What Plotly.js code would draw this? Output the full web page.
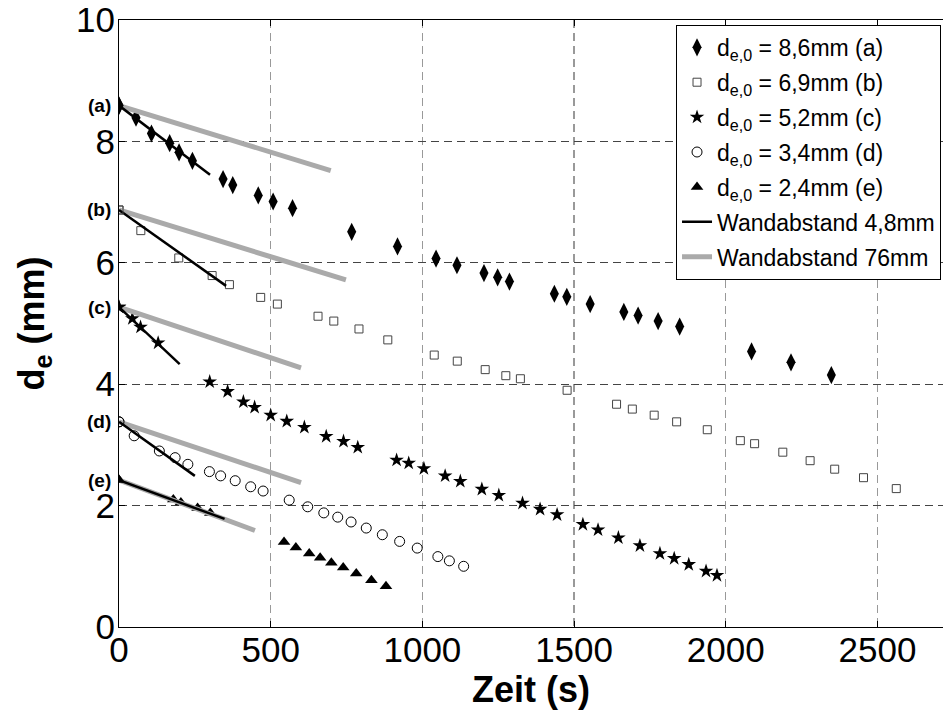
<!DOCTYPE html>
<html>
<head>
<meta charset="utf-8">
<script src="https://cdn.plot.ly/plotly-3.0.1.min.js"></script>
<style>
html,body{margin:0;padding:0;background:#fff;}
#chart{width:943px;height:710px;}
</style>
</head>
<body>
<div id="chart"></div>
<script>
// Series (a) d_e,0 = 8,6 mm
const tA = [0,56,107,167,198,242,343,375,459,508,572,767,918,1045,1114,1203,1248,1287,1435,1476,1553,1664,1711,1777,1848,2085,2215,2348];
const dA = [8.59,8.39,8.13,7.97,7.82,7.68,7.38,7.28,7.11,7.01,6.90,6.51,6.27,6.07,5.96,5.83,5.76,5.69,5.49,5.44,5.32,5.19,5.13,5.04,4.95,4.54,4.36,4.15];
// Series (b) d_e,0 = 6,9 mm
const tB = [0,72,197,307,364,467,522,656,708,791,886,1039,1115,1207,1275,1323,1477,1640,1692,1764,1838,1939,2048,2095,2188,2278,2359,2454,2562];
const dB = [6.87,6.53,6.08,5.79,5.64,5.43,5.32,5.12,5.04,4.91,4.73,4.48,4.38,4.24,4.14,4.09,3.90,3.67,3.59,3.49,3.38,3.25,3.07,3.02,2.88,2.74,2.60,2.46,2.28];
// Series (c) d_e,0 = 5,2 mm
const tC = [0,44,71,129,299,358,410,447,500,553,611,683,740,787,915,955,1005,1075,1125,1196,1252,1330,1388,1444,1529,1579,1646,1717,1783,1830,1878,1935,1971];
const dC = [5.27,5.08,4.94,4.68,4.04,3.88,3.71,3.62,3.49,3.39,3.29,3.14,3.06,2.96,2.75,2.70,2.61,2.49,2.40,2.27,2.17,2.04,1.94,1.85,1.69,1.60,1.47,1.34,1.21,1.13,1.03,0.92,0.85];
// Series (d) d_e,0 = 3,4 mm
const tD = [0,50,133,185,227,298,335,383,434,475,561,622,675,721,765,815,868,925,983,1051,1089,1136];
const dD = [3.38,3.15,2.90,2.79,2.68,2.56,2.49,2.41,2.31,2.24,2.09,1.98,1.88,1.81,1.73,1.63,1.52,1.41,1.30,1.16,1.09,1.00];
// Series (e) d_e,0 = 2,4 mm
const tE = [0,179,204,259,301,544,583,627,663,700,739,782,832,880];
const dE = [2.42,2.10,2.05,1.96,1.88,1.40,1.31,1.21,1.14,1.06,0.98,0.88,0.77,0.67];

// Fit lines: start at (0, d0) of each series, end points
const lineStartY = [8.59,6.87,5.27,3.38,2.42];
const blackEndT = [300,353,200,250,348];
const blackEndY = [7.45,5.62,4.33,2.49,1.78];
const grayEndT = [698,748,600,600,448];
const grayEndY = [7.52,5.72,4.27,2.38,1.59];

const seriesNames = [
  "d<sub>e,0</sub> = 8,6mm (a)",
  "d<sub>e,0</sub> = 6,9mm (b)",
  "d<sub>e,0</sub> = 5,2mm (c)",
  "d<sub>e,0</sub> = 3,4mm (d)",
  "d<sub>e,0</sub> = 2,4mm (e)"
];
const lineNames = ["Wandabstand 4,8mm", "Wandabstand 76mm"];
const caseLabels = ["(a)","(b)","(c)","(d)","(e)"];
const xTicks = [0,500,1000,1500,2000,2500];
const yTicks = [0,2,4,6,8,10];

const FONT = "Liberation Sans, Arial, Helvetica, sans-serif";

function seg(endT){
  const xs=[];
  endT.forEach((t)=>{ xs.push(0, t, null); });
  return xs;
}
function segY(startY, endY){
  const ys=[];
  endY.forEach((y,i)=>{ ys.push(startY[i], y, null); });
  return ys;
}

const markerStyles = [
  {symbol:"diamond-tall", size:13, color:"#000"},
  {symbol:"square-open", size:8, color:"#444", line:{width:1, color:"#444"}},
  {symbol:"star", size:11, color:"#000"},
  {symbol:"circle-open", size:10, color:"#000", line:{width:1, color:"#000"}},
  {symbol:"triangle-up", size:11, color:"#000"}
];
const xs = [tA,tB,tC,tD,tE];
const ys = [dA,dB,dC,dD,dE];

const traces = [];
for(let i=0;i<5;i++){
  traces.push({
    x: xs[i], y: ys[i], type:"scatter", mode:"markers",
    name: seriesNames[i], marker: markerStyles[i], legendgroup:"g"+i
  });
}
traces.push({
  x: seg(grayEndT), y: segY(lineStartY, grayEndY), type:"scatter", mode:"lines",
  name: lineNames[1], line:{color:"#aaaaaa", width:5}, showlegend:false, connectgaps:false,
  legendgroup:"g6"
});
traces.push({
  x: seg(blackEndT), y: segY(lineStartY, blackEndY), type:"scatter", mode:"lines",
  name: lineNames[0], line:{color:"#000", width:2.5}, connectgaps:false, legendgroup:"g5"
});
// legend entry for gray line (kept after black line in legend order)
traces.push({
  x: [null], y: [null], type:"scatter", mode:"lines",
  name: lineNames[1], line:{color:"#aaaaaa", width:5}, legendgroup:"g6"
});
// redraw first markers on top of lines (no legend)
for(let i=0;i<5;i++){
  traces.push({
    x: [xs[i][0]], y: [ys[i][0]], type:"scatter", mode:"markers",
    showlegend:false, marker: markerStyles[i], hoverinfo:"skip", legendgroup:"g"+i
  });
}

const annotations = caseLabels.map((lab,i)=>({
  x: 0, y: lineStartY[i], xref:"x", yref:"y", text: lab, showarrow:false,
  xanchor:"right", yanchor:"middle", xshift:-6,
  font:{family:FONT, size:19, color:"#000", weight:"bold"}
}));

const layout = {
  width:943, height:710,
  margin:{l:119, r:0, t:20, b:83},
  paper_bgcolor:"#fff", plot_bgcolor:"#fff",
  font:{family:FONT, color:"#000"},
  showlegend:true,
  legend:{
    x:0.676, y:0.992, xanchor:"left", yanchor:"top",
    bgcolor:"#fff", bordercolor:"#000", borderwidth:1,
    font:{family:FONT, size:23, color:"#000"},
    tracegroupgap:2, itemwidth:30
  },
  xaxis:{
    range:[0,2716], tickvals:xTicks, ticktext:xTicks.map(String),
    showgrid:true, gridcolor:"#999", gridwidth:1.3, griddash:"8px,5px",
    zeroline:false, showline:true, linecolor:"#000", linewidth:1, mirror:"ticks",
    ticks:"inside", ticklen:6, tickcolor:"#000", ticklabelstandoff:-8,
    tickfont:{family:FONT, size:35, color:"#000"},
    title:{text:"Zeit (s)", font:{family:FONT, size:36, color:"#000", weight:"bold"}, standoff:0}
  },
  yaxis:{
    range:[0,10], tickvals:yTicks, ticktext:yTicks.map(String),
    showgrid:true, gridcolor:"#444", gridwidth:1, griddash:"8px,5px",
    zeroline:false, showline:true, linecolor:"#000", linewidth:1,
    ticks:"inside", ticklen:6, tickcolor:"#000", ticklabelstandoff:-4,
    tickfont:{family:FONT, size:35, color:"#000"},
    title:{text:"d<sub>e</sub> (mm)", font:{family:FONT, size:36, color:"#000", weight:"bold"}, standoff:20}
  },
  annotations: annotations
};

Plotly.newPlot("chart", traces, layout, {staticPlot:true, displayModeBar:false});
</script>
</body>
</html>
